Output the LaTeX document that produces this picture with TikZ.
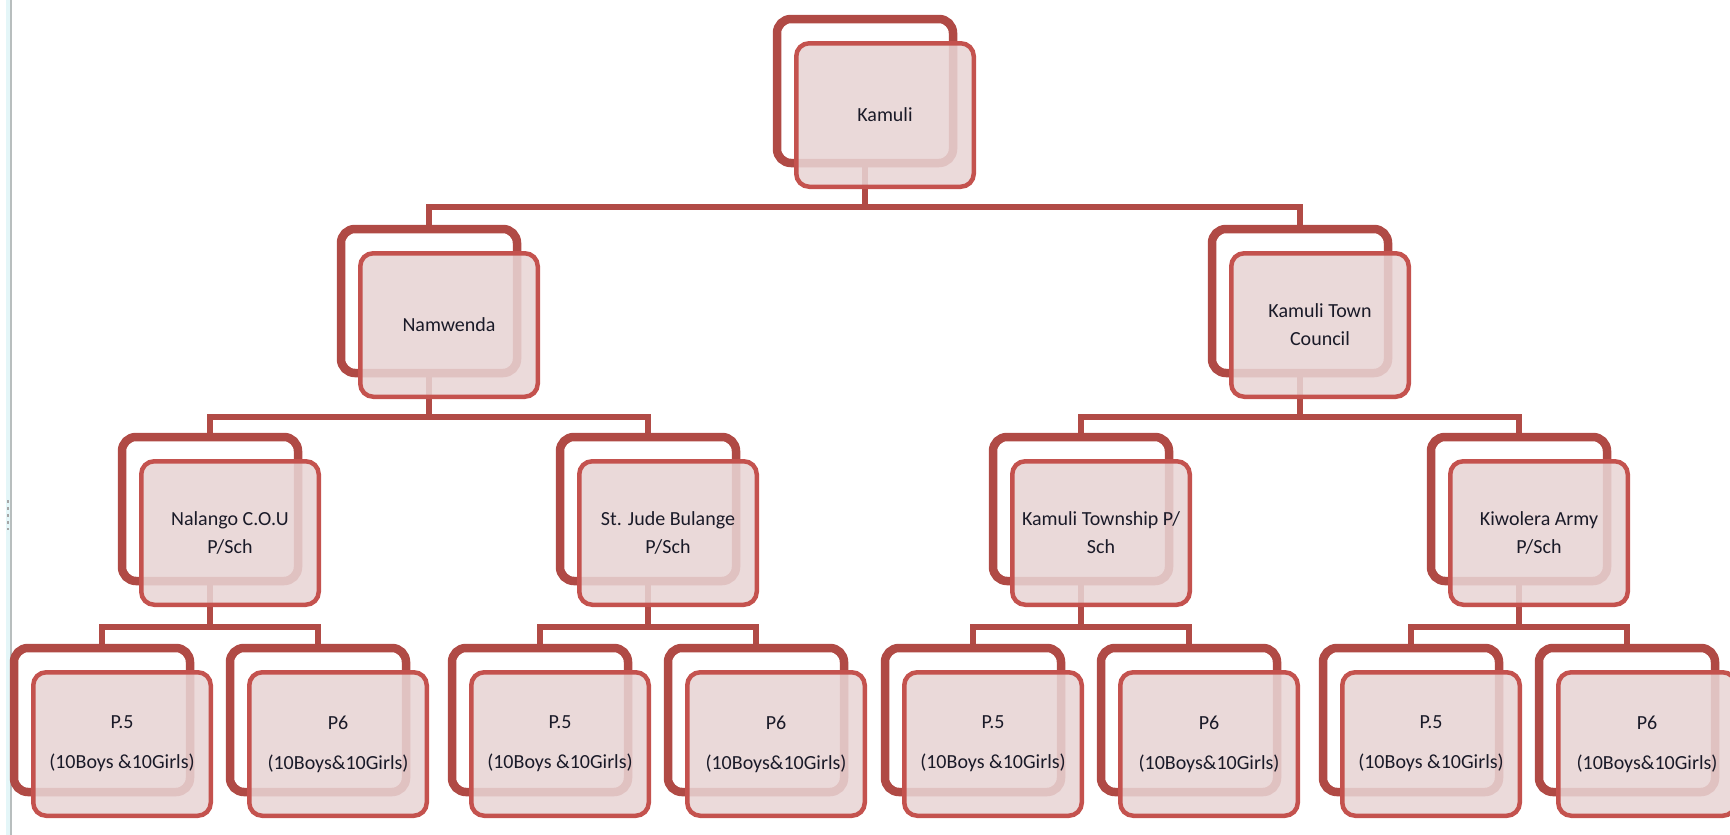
\documentclass[tikz,border=0pt]{standalone}
\usepackage{fontspec}
\setmainfont{Carlito}
\usetikzlibrary{shadows}
\definecolor{backline}{HTML}{B04A45}
\definecolor{frontline}{HTML}{C4524E}
\definecolor{frontfill}{HTML}{E8D4D4}
\definecolor{conn}{HTML}{B14B46}
\definecolor{txt}{HTML}{1A1A28}
\definecolor{edgegrey}{HTML}{B8BEBE}
\definecolor{edgecyan}{HTML}{E4F6F8}
\pgfdeclarelayer{bg}
\pgfsetlayers{bg,main}
\newcommand\orgunit[4]{%
  \node[backbox] (#1b) at (#2,#3) {};
  \node[frontbox] (#1) at (#2+20,#3+24) {#4};
}
\begin{document}
\begin{tikzpicture}[x=1pt,y=-1pt,
  backbox/.style={draw=backline, line width=8.5pt, fill=white, rounded corners=14pt,
    minimum width=176pt, minimum height=144pt, inner sep=0pt, outer sep=0pt,
    drop shadow={shadow xshift=-3pt, shadow yshift=-3pt, opacity=0.25}},
  frontbox/.style={draw=frontline, line width=4.5pt, fill=frontfill, fill opacity=0.87,
    text opacity=1, rounded corners=13pt, minimum width=177.5pt, minimum height=143.5pt,
    inner sep=0pt, outer sep=0pt, text=txt, align=center,
    font=\fontsize{20}{28}\selectfont},
  link/.style={draw=conn, line width=6pt}
]
\useasboundingbox (0,0) rectangle (1730,835);
\clip (0,0) rectangle (1730,835);
% page edge at the left
\fill[edgecyan] (6,0) rectangle (10,835);
\draw[edgegrey, line width=1.5pt] (11,0) -- (11,835);
\draw[gray!70, line width=2pt, dash pattern=on 3pt off 4pt] (8,500) -- (8,530);

% level 0
\orgunit{kam}{865}{91}{Kamuli}
% level 1
\orgunit{nam}{429}{301}{Namwenda}
\orgunit{ktc}{1300}{301}{Kamuli Town\\Council}
% level 2
\orgunit{nal}{210}{509}{Nalango C.O.U\\P/Sch}
\orgunit{stj}{648}{509}{St. Jude Bulange\\P/Sch}
\orgunit{kts}{1081}{509}{Kamuli Township P/\\Sch}
\orgunit{kiw}{1519}{509}{Kiwolera Army\\P/Sch}
% level 3
\tikzset{frontbox/.append style={font=\fontsize{20}{40}\selectfont}}
\orgunit{nalA}{102}{720}{P.5\\(10Boys \&10Girls)}
\orgunit{nalB}{318}{720}{P6\\(10Boys\&10Girls)}
\orgunit{stjA}{540}{720}{P.5\\(10Boys \&10Girls)}
\orgunit{stjB}{756}{720}{P6\\(10Boys\&10Girls)}
\orgunit{ktsA}{973}{720}{P.5\\(10Boys \&10Girls)}
\orgunit{ktsB}{1189}{720}{P6\\(10Boys\&10Girls)}
\orgunit{kiwA}{1411}{720}{P.5\\(10Boys \&10Girls)}
\orgunit{kiwB}{1627}{720}{P6\\(10Boys\&10Girls)}

\coordinate (bar0) at (0,207);
\coordinate (bar1) at (0,417);
\coordinate (bar2) at (0,627);

\begin{pgfonlayer}{bg}
\foreach \c in {nam,ktc}
  \draw[link] (kamb.south) -- (kamb.south |- bar0) -| (\c b.north);
\foreach \c in {nal,stj}
  \draw[link] (namb.south) -- (namb.south |- bar1) -| (\c b.north);
\foreach \c in {kts,kiw}
  \draw[link] (ktcb.south) -- (ktcb.south |- bar1) -| (\c b.north);
\foreach \p in {nal,stj,kts,kiw}{
  \draw[link] (\p b.south) -- (\p b.south |- bar2) -| (\p Ab.north);
  \draw[link] (\p b.south) -- (\p b.south |- bar2) -| (\p Bb.north);
}
\end{pgfonlayer}
\end{tikzpicture}
\end{document}
